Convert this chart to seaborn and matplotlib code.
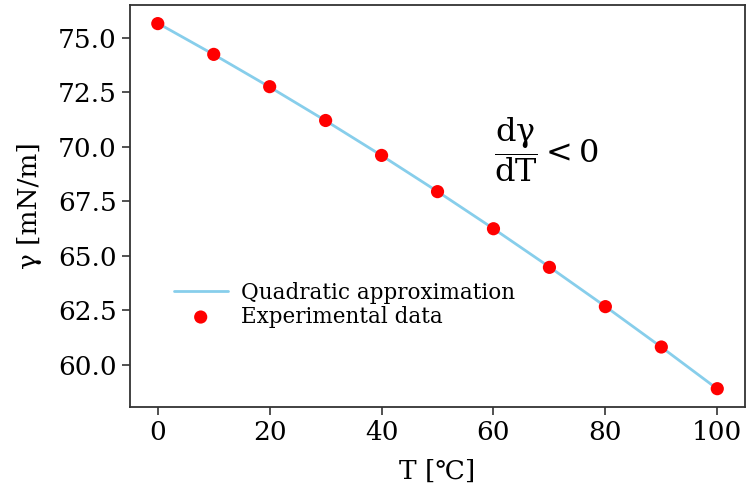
import numpy as np
import pandas as pd
import matplotlib
matplotlib.use("Agg")
import matplotlib.pyplot as plt
import seaborn as sns

# Data: surface tension of water vs temperature
temperature = [0, 10, 20, 30, 40, 50, 60, 70, 80, 90, 100]
surface_tension = [75.64, 74.23, 72.75, 71.20, 69.60, 67.94, 66.24, 64.47, 62.67, 60.82, 58.91]
x_ticks = [0, 20, 40, 60, 80, 100]
y_ticks = [60.0, 62.5, 65.0, 67.5, 70.0, 72.5, 75.0]

sns.set_style("ticks")
plt.rcParams['font.family'] = ['DejaVu Serif', 'DejaVu Sans']
plt.rcParams['mathtext.fontset'] = 'dejavuserif'
plt.rcParams['text.color'] = 'black'
plt.rcParams['axes.labelcolor'] = 'black'
plt.rcParams['xtick.color'] = '#333333'
plt.rcParams['ytick.color'] = '#333333'
plt.rcParams['xtick.labelcolor'] = 'black'
plt.rcParams['ytick.labelcolor'] = 'black'

df = pd.DataFrame({"T": temperature, "gamma": surface_tension})
coef = np.polyfit(df["T"], df["gamma"], 2)
t_fit = np.array(temperature, dtype=float)
fit_df = pd.DataFrame({"T": t_fit, "gamma": np.polyval(coef, t_fit)})

fig = plt.figure(figsize=(7.46, 4.90), dpi=100)
ax = fig.add_axes([0.174, 0.169, 0.825, 0.821])

sns.lineplot(data=fit_df, x="T", y="gamma", ax=ax, color="#87CEEB", linewidth=2,
             label="Quadratic approximation")
sns.scatterplot(data=df, x="T", y="gamma", ax=ax, color="red", s=90, edgecolor="none",
                zorder=3, label="Experimental data")

ax.set_xticks(x_ticks)
ax.set_yticks(y_ticks)
ax.set_yticklabels([f"{v:.1f}" for v in y_ticks])
ax.tick_params(labelsize=19, length=6, width=1.2)
for s in ax.spines.values():
    s.set_color("#333333")
    s.set_linewidth(1.3)

ax.set_xlabel("T [℃]", fontsize=19, labelpad=10)
ax.set_ylabel("γ [mN/m]", fontsize=19, labelpad=11)

ax.text(0.592, 0.64, r"$\dfrac{\mathrm{d\gamma}}{\mathrm{dT}} < 0$", transform=ax.transAxes,
        fontsize=23, ha="left", va="center")

ax.legend(loc="center left", bbox_to_anchor=(0.04, 0.255), frameon=False, fontsize=15.5,
          handlelength=2.5, labelspacing=0.1, handletextpad=0.6)

fig.savefig("out.png", dpi=100)
